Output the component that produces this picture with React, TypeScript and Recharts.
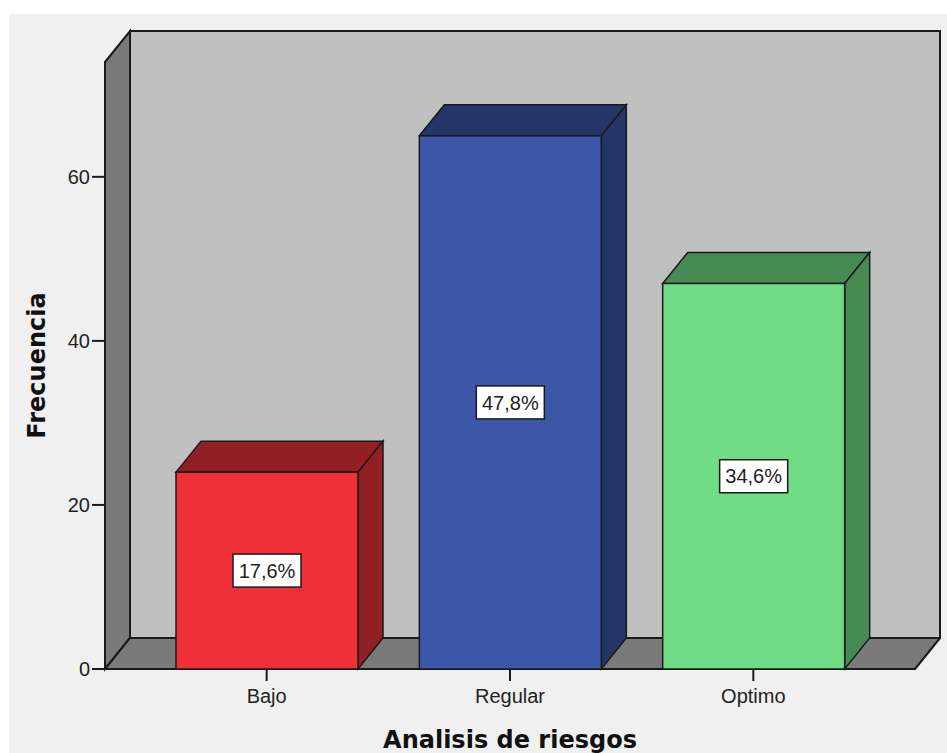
import { BarChart, Bar, XAxis, YAxis, ReferenceArea } from 'recharts';

const CATEGORIES = ['Bajo', 'Regular', 'Optimo'];
const FRECUENCIAS = [24, 65, 47];
const Y_TICKS = [0, 20, 40, 60];
const Y_MAX = 74;

const FACE_COLORS = ['#ef3039', '#3d57a8', '#70dc85'];
const SHADE_COLORS = ['#921f23', '#243568', '#478a53'];

const TOTAL = FRECUENCIAS.reduce((a, b) => a + b, 0);
const data = CATEGORIES.map((name, i) => ({
  name,
  n: FRECUENCIAS[i],
  pct: (FRECUENCIAS[i] / TOTAL) * 100,
}));

// 3d depth offset in px
const DX = 25;
const DY = 31;
const X_PAD = 40;
const EDGE = '#1a1a1a';
const TICK_FONT = { fontFamily: '"Liberation Sans", Arial, sans-serif', fontSize: 20, fill: '#222' };
const TITLE_FONT = { fontFamily: '"DejaVu Sans", Verdana, sans-serif', fontSize: 24, fontWeight: 700, fill: '#111' };

// back wall, left wall and floor of the box
const Frame = (props: any) => {
  const { x, y, width, height } = props;
  const left = x - X_PAD;
  const right = x + width + X_PAD;
  const top = y;
  const bottom = y + height;
  return (
    <g>
      <rect x={left + DX} y={top - DY} width={right - left} height={height} fill="#c0c0c0" stroke={EDGE} strokeWidth={2} />
      <polygon
        points={`${left},${top} ${left + DX},${top - DY} ${left + DX},${bottom - DY} ${left},${bottom}`}
        fill="#7a7a7a"
        stroke={EDGE}
        strokeWidth={2}
      />
      <polygon
        points={`${left},${bottom} ${left + DX},${bottom - DY} ${right + DX},${bottom - DY} ${right},${bottom}`}
        fill="#7a7a7a"
        stroke={EDGE}
        strokeWidth={2}
        strokeLinejoin="round"
      />
    </g>
  );
};

const Bar3D = (props: any) => {
  const { x, y, width, height, index, payload } = props;
  const right = x + width;
  const bottom = y + height;
  const cx = x + width / 2;
  const cy = y + height / 2;
  const label = payload.pct.toFixed(1).replace('.', ',') + '%';
  return (
    <g>
      <polygon
        points={`${x},${y} ${x + DX},${y - DY} ${right + DX},${y - DY} ${right},${y}`}
        fill={SHADE_COLORS[index]}
        stroke={EDGE}
        strokeWidth={1.5}
      />
      <polygon
        points={`${right},${y} ${right + DX},${y - DY} ${right + DX},${bottom - DY} ${right},${bottom}`}
        fill={SHADE_COLORS[index]}
        stroke={EDGE}
        strokeWidth={1.5}
      />
      <rect x={x} y={y} width={width} height={height} fill={FACE_COLORS[index]} stroke={EDGE} strokeWidth={1.5} />
      <rect x={cx - 34} y={cy - 16.5} width={68} height={33} fill="#fff" stroke={EDGE} strokeWidth={1.5} />
      <text x={cx} y={cy} dy="0.36em" textAnchor="middle" {...TICK_FONT}>
        {label}
      </text>
    </g>
  );
};

const YTitle = (props: any) => {
  const vb = props.viewBox;
  const cy = vb.y + vb.height / 2;
  return (
    <text x={vb.x} y={cy} transform={`rotate(-90, ${vb.x}, ${cy})`} textAnchor="middle" {...TITLE_FONT}>
      Frecuencia
    </text>
  );
};

const XTitle = (props: any) => {
  const vb = props.viewBox;
  return (
    <text x={vb.x + vb.width / 2} y={vb.y + vb.height + 49} textAnchor="middle" {...TITLE_FONT}>
      Analisis de riesgos
    </text>
  );
};

export default function App() {
  return (
    <div style={{ position: 'fixed', left: 0, top: 0, width: 947, height: 753, background: '#fff' }}>
      <div style={{ position: 'absolute', left: 9, top: 14, right: 0, bottom: 0, background: '#f0f0f0' }} />
      <BarChart
        width={947}
        height={753}
        data={data}
        margin={{ top: 62, right: 32, bottom: 54, left: 45 }}
        style={{ position: 'absolute', left: 0, top: 0 }}
      >
        <ReferenceArea y1={0} y2={Y_MAX} shape={<Frame />} />
        <XAxis
          dataKey="name"
          height={30}
          padding={{ left: X_PAD, right: X_PAD }}
          axisLine={false}
          stroke={EDGE}
          tickLine={{ strokeWidth: 2 }}
          tickSize={12}
          tickMargin={8}
          tick={TICK_FONT}
          label={{ content: XTitle }}
        />
        <YAxis
          width={60}
          domain={[0, Y_MAX]}
          ticks={Y_TICKS}
          axisLine={false}
          stroke={EDGE}
          tickLine={{ strokeWidth: 2 }}
          tickSize={13}
          tickMargin={2}
          tick={TICK_FONT}
          label={{ content: YTitle }}
        />
        <Bar dataKey="n" barSize={182} shape={<Bar3D />} isAnimationActive={false} />
      </BarChart>
    </div>
  );
}
